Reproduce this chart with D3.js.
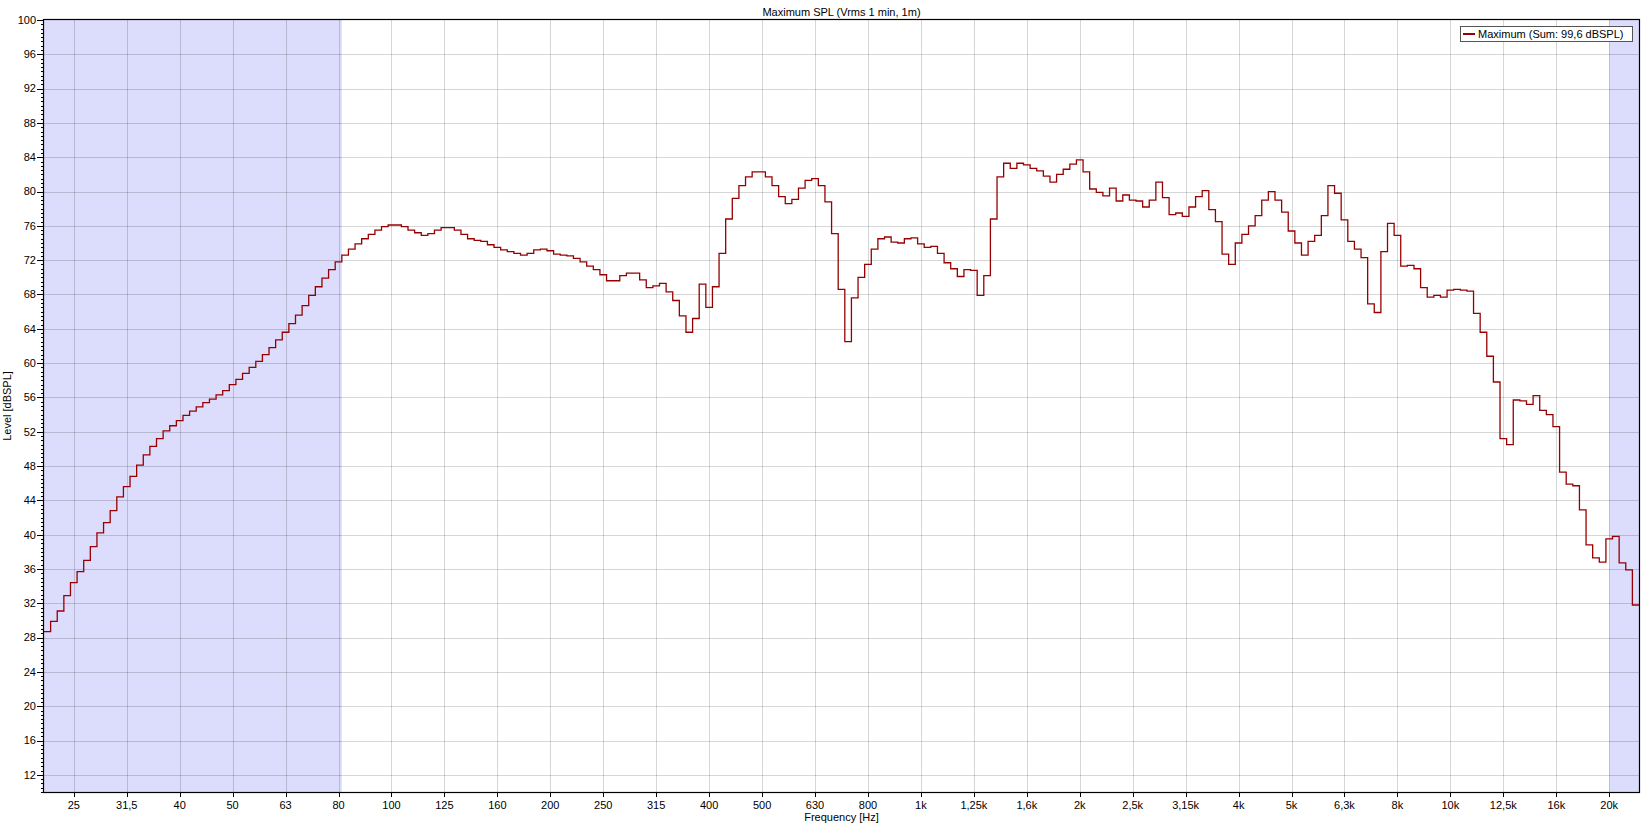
<!DOCTYPE html>
<html>
<head>
<meta charset="utf-8">
<script src="https://cdn.jsdelivr.net/npm/d3@7"></script>
<style>
body { margin: 0; background: #fff; }
text { font-family: "Liberation Sans", Arial, sans-serif; font-size: 11px; fill: #000; }
</style>
</head>
<body>
<div class="container"></div>
<script>
const w = 1648
const h = 825
const plot = {left: 44, right: 1639, top: 20, bottom: 792}

// 1/24 octave bands, band index relative to 1 kHz
const firstBand = -132
const bandsPerOct = 24

// Level per band [dBSPL] (21.9 Hz ... 22.9 kHz)
const levels = [
  28.7, 29.9, 31.1, 32.9, 34.4, 35.7, 37.0, 38.6, 40.2, 41.4,
  42.8, 44.4, 45.6, 46.8, 48.1, 49.3, 50.3, 51.2, 52.1, 52.7,
  53.3, 53.9, 54.4, 54.9, 55.4, 55.8, 56.3, 56.8, 57.5, 58.1,
  58.8, 59.5, 60.2, 61.0, 61.8, 62.7, 63.6, 64.6, 65.6, 66.7,
  67.9, 68.9, 69.9, 70.9, 71.8, 72.6, 73.3, 73.9, 74.5, 75.0,
  75.5, 75.9, 76.1, 76.1, 75.9, 75.5, 75.2, 74.9, 75.1, 75.5,
  75.8, 75.8, 75.5, 75.0, 74.5, 74.3, 74.2, 73.8, 73.5, 73.2,
  73.0, 72.8, 72.6, 72.8, 73.2, 73.3, 73.1, 72.7, 72.6, 72.5,
  72.2, 71.8, 71.3, 70.9, 70.3, 69.6, 69.6, 70.2, 70.5, 70.5,
  69.7, 68.8, 69.0, 69.3, 68.3, 67.3, 65.5, 63.6, 65.2, 69.2,
  66.5, 68.9, 72.8, 76.8, 79.2, 80.7, 81.7, 82.3, 82.3, 81.7,
  80.7, 79.4, 78.6, 79.1, 80.4, 81.3, 81.5, 80.7, 78.8, 75.1,
  68.6, 62.5, 67.6, 70.0, 71.5, 73.3, 74.5, 74.7, 74.1, 74.0,
  74.5, 74.6, 73.9, 73.5, 73.6, 72.8, 71.7, 71.0, 70.1, 70.9,
  70.8, 67.9, 70.2, 76.8, 81.7, 83.3, 82.7, 83.3, 83.1, 82.7,
  82.4, 81.8, 81.1, 82.0, 82.6, 83.2, 83.7, 82.3, 80.3, 79.9,
  79.5, 80.4, 78.9, 79.6, 79.0, 78.9, 78.2, 79.0, 81.1, 79.3,
  77.3, 77.5, 77.1, 78.2, 79.4, 80.1, 77.9, 76.5, 72.7, 71.5,
  74.0, 75.0, 76.0, 77.2, 79.0, 80.0, 79.0, 77.6, 75.4, 74.0,
  72.6, 74.2, 74.9, 77.2, 80.7, 79.8, 76.7, 74.2, 73.3, 72.3,
  66.9, 65.9, 73.0, 76.3, 74.9, 71.3, 71.4, 71.0, 68.8, 67.7,
  67.9, 67.7, 68.5, 68.6, 68.5, 68.4, 65.8, 63.6, 60.8, 57.8,
  51.2, 50.5, 55.7, 55.6, 55.2, 56.2, 54.5, 54.0, 52.6, 47.3,
  45.9, 45.7, 42.9, 38.8, 37.3, 36.8, 39.5, 39.8, 36.7, 35.9,
  31.8
]

// third octave tick labels, 25 Hz ... 20 kHz
const tickLabels = ['25', '31,5', '40', '50', '63', '80', '100', '125', '160', '200',
  '250', '315', '400', '500', '630', '800', '1k', '1,25k', '1,6k', '2k',
  '2,5k', '3,15k', '4k', '5k', '6,3k', '8k', '10k', '12,5k', '16k', '20k']
const tickFreqs = tickLabels.map((d, j) => 1000 * Math.pow(2, (j - 16) / 3))

const yMajor = d3.range(12, 101, 4)
const yMinor = d3.range(10, 100.01, 0.5)

const title = 'Maximum SPL (Vrms 1 min, 1m)'
const legendLabel = 'Maximum (Sum: 99,6 dBSPL)'

const bandFreq = (i, off) => 1000 * Math.pow(2, (firstBand + i + off) / bandsPerOct)
const fMin = bandFreq(0, -0.5)
const fMax = bandFreq(levels.length - 1, 0.5)

// shaded ranges outside 80 Hz ... 20 kHz
const shaded = [[fMin, bandFreq(44, 0.5)], [tickFreqs[tickFreqs.length - 1], fMax]]

const svg = d3.select('.container')
  .append('svg')
  .attr('width', w)
  .attr('height', h)
  .style('display', 'block')

svg.append('rect').attr('width', w).attr('height', h).attr('fill', '#fff')

const xScale = d3.scaleLog()
  .domain([fMin, fMax])
  .range([plot.left, plot.right])

const yScale = d3.scaleLinear()
  .domain([10, 100])
  .range([plot.bottom, plot.top])

svg.append('defs').append('clipPath').attr('id', 'clip')
  .append('rect')
  .attr('x', plot.left).attr('y', plot.top)
  .attr('width', plot.right - plot.left).attr('height', plot.bottom - plot.top)

const inner = svg.append('g').attr('clip-path', 'url(#clip)')

// Shaded bands
inner.selectAll('rect.band')
  .data(shaded)
  .enter()
  .append('rect')
  .attr('class', 'band')
  .attr('x', d => xScale(d[0]))
  .attr('width', d => xScale(d[1]) - xScale(d[0]))
  .attr('y', plot.top)
  .attr('height', plot.bottom - plot.top)
  .attr('fill', '#dcdcfc')

// Grid
inner.selectAll('line.vgrid')
  .data(tickFreqs)
  .enter()
  .append('line')
  .attr('x1', d => Math.round(xScale(d)) + 0.5)
  .attr('x2', d => Math.round(xScale(d)) + 0.5)
  .attr('y1', plot.top)
  .attr('y2', plot.bottom)
  .attr('stroke', 'rgba(0,0,0,0.16)')

inner.selectAll('line.hgrid')
  .data(yMajor.filter(d => d < 100))
  .enter()
  .append('line')
  .attr('x1', plot.left)
  .attr('x2', plot.right)
  .attr('y1', d => Math.round(yScale(d)) + 0.5)
  .attr('y2', d => Math.round(yScale(d)) + 0.5)
  .attr('stroke', 'rgba(0,0,0,0.16)')

// Step curve, each band drawn over its own width
const stepPoints = []
levels.forEach((v, i) => {
  stepPoints.push([bandFreq(i, -0.5), v])
  stepPoints.push([bandFreq(i, 0.5), v])
})

const line = d3.line()
  .x(d => xScale(d[0]))
  .y(d => yScale(d[1]))

inner.append('path')
  .datum(stepPoints)
  .attr('d', line)
  .attr('fill', 'none')
  .attr('stroke', '#960000')
  .attr('stroke-width', 1.3)

// Frame
svg.append('rect')
  .attr('x', plot.left - 0.5)
  .attr('y', plot.top - 0.5)
  .attr('width', plot.right - plot.left + 1)
  .attr('height', plot.bottom - plot.top + 1)
  .attr('fill', 'none')
  .attr('stroke', '#000')
  .attr('stroke-width', 1.2)

// Y ticks
svg.selectAll('line.yminor')
  .data(yMinor)
  .enter()
  .append('line')
  .attr('x1', plot.left - 3)
  .attr('x2', plot.left)
  .attr('y1', d => Math.round(yScale(d)) + 0.5)
  .attr('y2', d => Math.round(yScale(d)) + 0.5)
  .attr('stroke', '#000')

svg.selectAll('line.ymajor')
  .data(yMajor)
  .enter()
  .append('line')
  .attr('x1', plot.left - 7)
  .attr('x2', plot.left)
  .attr('y1', d => Math.round(yScale(d)) + 0.5)
  .attr('y2', d => Math.round(yScale(d)) + 0.5)
  .attr('stroke', '#000')

svg.selectAll('text.ylab')
  .data(yMajor)
  .enter()
  .append('text')
  .attr('x', plot.left - 8)
  .attr('y', d => yScale(d))
  .attr('dy', '0.35em')
  .attr('text-anchor', 'end')
  .text(d => d)

// X ticks
svg.selectAll('line.xtick')
  .data(tickFreqs)
  .enter()
  .append('line')
  .attr('x1', d => Math.round(xScale(d)) + 0.5)
  .attr('x2', d => Math.round(xScale(d)) + 0.5)
  .attr('y1', plot.bottom)
  .attr('y2', plot.bottom + 5)
  .attr('stroke', '#000')

svg.selectAll('text.xlab')
  .data(tickFreqs)
  .enter()
  .append('text')
  .attr('x', d => xScale(d))
  .attr('y', plot.bottom + 17)
  .attr('text-anchor', 'middle')
  .text((d, i) => tickLabels[i])

// Titles
svg.append('text')
  .text(title)
  .attr('x', (plot.left + plot.right) / 2)
  .attr('y', 16)
  .attr('text-anchor', 'middle')

svg.append('text')
  .text('Frequency [Hz]')
  .attr('x', (plot.left + plot.right) / 2)
  .attr('y', 821)
  .attr('text-anchor', 'middle')

svg.append('text')
  .text('Level [dBSPL]')
  .attr('transform', 'translate(11,' + ((plot.top + plot.bottom) / 2) + ') rotate(-90)')
  .attr('text-anchor', 'middle')

// Legend
const legend = svg.append('g').attr('transform', 'translate(1460, 26)')
legend.append('rect')
  .attr('x', 0.5).attr('y', 0.5)
  .attr('width', 172).attr('height', 15)
  .attr('fill', '#fff')
  .attr('stroke', '#555')
legend.append('line')
  .attr('x1', 3).attr('x2', 15)
  .attr('y1', 8).attr('y2', 8)
  .attr('stroke', '#960000')
  .attr('stroke-width', 2)
legend.append('text')
  .text(legendLabel)
  .attr('x', 18)
  .attr('y', 12)
</script>
</body>
</html>
